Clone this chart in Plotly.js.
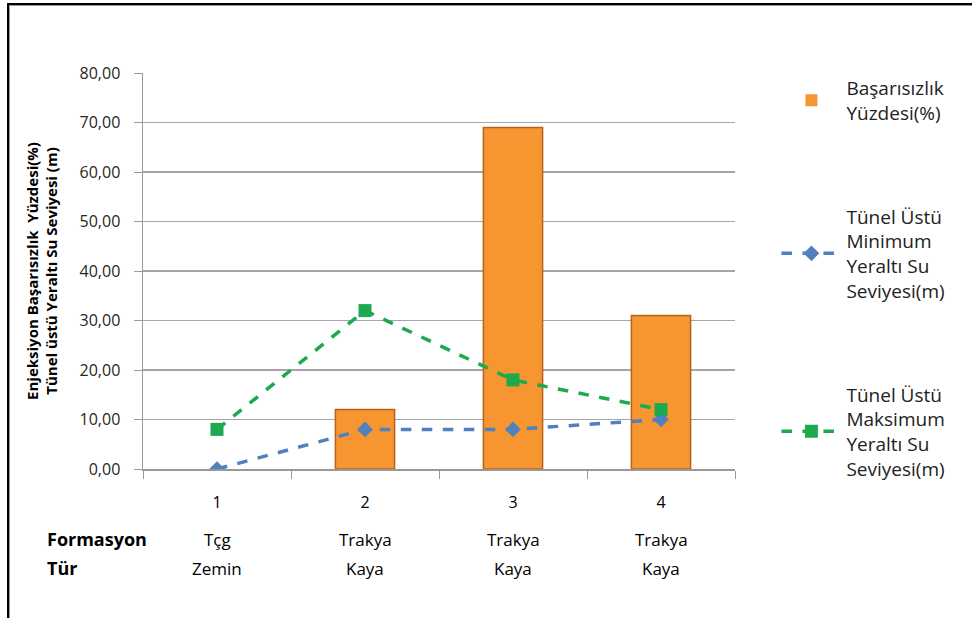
<!DOCTYPE html>
<html><head><meta charset="utf-8">
<script src="https://cdn.plot.ly/plotly-3.0.1.min.js"></script>
<style>
html,body{margin:0;padding:0;background:#fff;}
#frame{position:absolute;left:7px;top:3px;width:975px;height:630px;border-left:2px solid #000;border-top:2px solid #000;box-shadow:inset 1px 1px 0 #999;}
#chart{position:absolute;left:0;top:0;width:972px;height:618px;}
</style></head>
<body>
<div id="chart"></div>
<div id="frame"></div>
<script>
const categories = ['1','2','3','4'];
const formasyon = ['Tçg','Trakya','Trakya','Trakya'];
const tur = ['Zemin','Kaya','Kaya','Kaya'];
const basarisizlik = [0, 12, 69, 31];
const minSeviye = [0, 8, 8, 10];
const maxSeviye = [8, 32, 18, 12];

const F = 'Open Sans, Noto Sans, sans-serif';
const traces = [
 {type:'bar', x:categories, y:basarisizlik, name:'Başarısızlık<br>Yüzdesi(%)', legendgroup:'a',
  width:0.4, marker:{color:'#F79530', line:{color:'#B8621C', width:basarisizlik.map(v => v > 0 ? 1.5 : 0)}}},
 {type:'scatter', mode:'lines+markers', x:categories, y:minSeviye, name:'Tünel Üstü<br>Minimum<br>Yeraltı Su<br>Seviyesi(m)', legendgroup:'b',
  line:{color:'#4F81BD', width:3.5, dash:'dash'}, marker:{symbol:'diamond', size:12, color:'#4F81BD'}},
 {type:'scatter', mode:'lines+markers', x:categories, y:maxSeviye, name:'Tünel Üstü<br>Maksimum<br>Yeraltı Su<br>Seviyesi(m)', legendgroup:'c',
  line:{color:'#1DAA4E', width:3.5, dash:'dash'}, marker:{symbol:'square', size:13, color:'#1DAA4E'}}
];

const ann = [];
ann.push({xref:'paper', yref:'paper', x:-0.165, y:-0.178, xanchor:'left', yanchor:'middle', text:'<b>Formasyon</b>', showarrow:false, font:{family:F, size:18, color:'#000'}});
ann.push({xref:'paper', yref:'paper', x:-0.165, y:-0.25, xanchor:'left', yanchor:'middle', text:'<b>Tür</b>', showarrow:false, font:{family:F, size:18, color:'#000'}});
for (let i=0;i<categories.length;i++){
  ann.push({xref:'x', yref:'paper', x:i, y:-0.178, yanchor:'middle', text:formasyon[i], showarrow:false, font:{family:F, size:17, color:'#000'}});
  ann.push({xref:'x', yref:'paper', x:i, y:-0.25, yanchor:'middle', text:tur[i], showarrow:false, font:{family:F, size:17, color:'#000'}});
}

const layout = {
 width:972, height:618,
 margin:{l:143, r:237, t:73, b:149},
 paper_bgcolor:'#fff', plot_bgcolor:'#fff',
 separators:',.',
 showlegend:true,
 legend:{x:1.07, y:1.01, xanchor:'left', yanchor:'top', traceorder:'grouped', tracegroupgap:76, maxheight:600,
   font:{family:F, size:19, color:'#222'}, itemwidth:60},
 xaxis:{type:'category', tickson:'boundaries', ticks:'outside', ticklen:8, tickcolor:'#999',
   showline:true, linecolor:'#999', linewidth:1.5, showgrid:false, ticklabelstandoff:18,
   tickfont:{family:F, size:16, color:'#000'}},
 yaxis:{range:[0,80], dtick:10, tickformat:'.2f', ticks:'outside', ticklen:8, tickcolor:'#999',
   showline:true, linecolor:'#999', linewidth:1.5, gridcolor:'#A6A6A6', gridwidth:1.5, zeroline:false,
   ticklabelstandoff:10,
   tickfont:{family:F, size:16, color:'#262626'},
   title:{text:'<b>Enjeksiyon Başarısızlık  Yüzdesi(%)<br>Tünel üstü Yeraltı Su Seviyesi (m)</b>', standoff:18,
     font:{family:F, size:15, color:'#000'}}},
 annotations:ann
};
Plotly.newPlot('chart', traces, layout, {displayModeBar:false, staticPlot:true});
</script>
</body></html>
